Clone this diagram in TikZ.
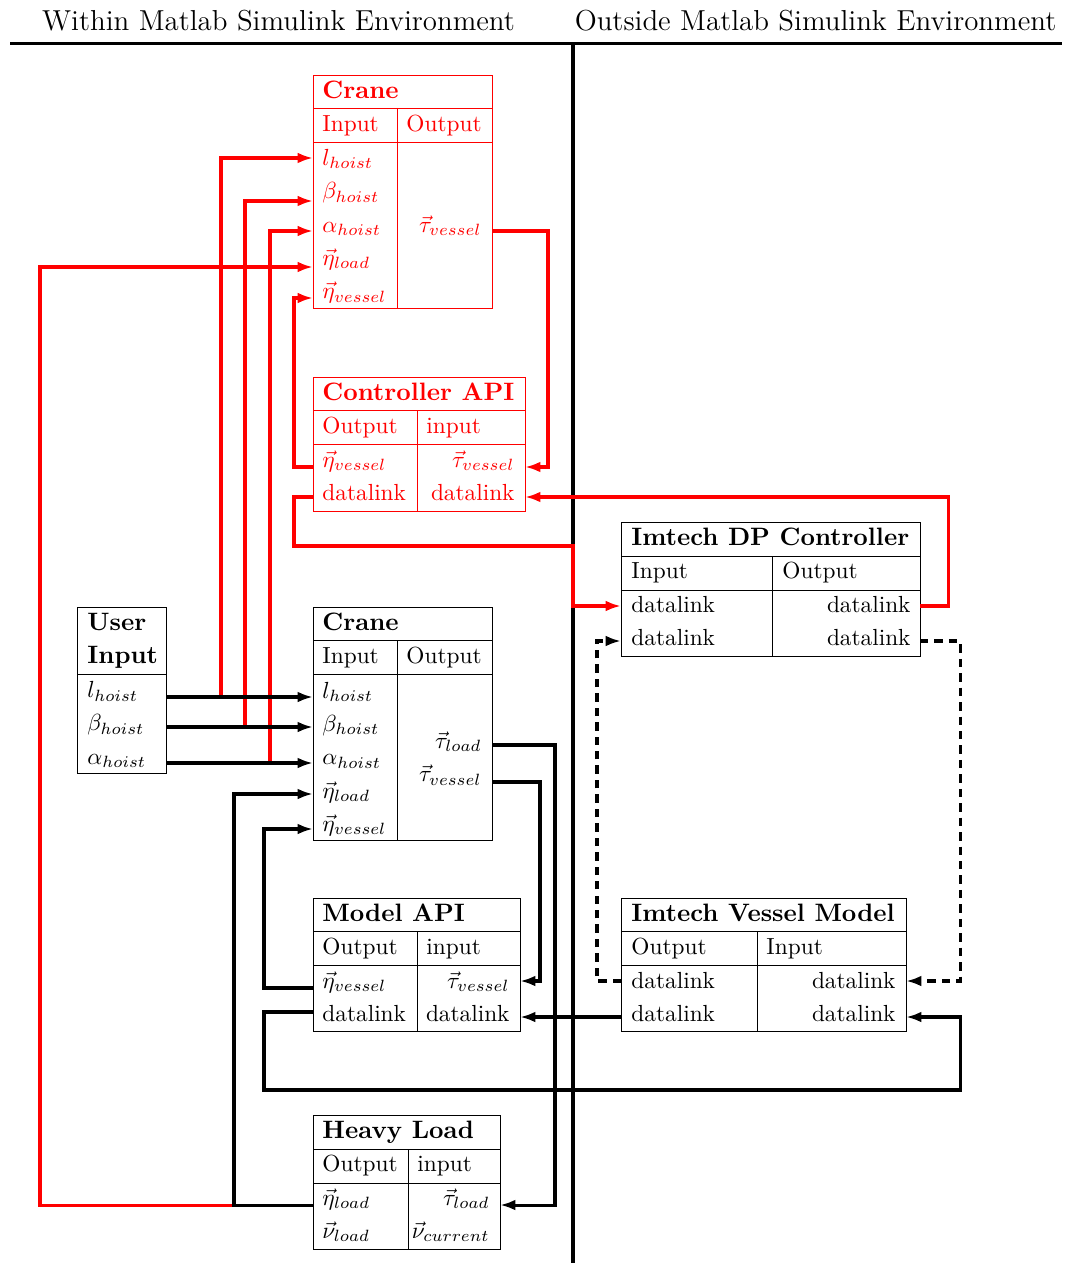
\documentclass[tikz,border=0pt]{standalone}
\usetikzlibrary{arrows.meta}
\begin{document}
\begin{tikzpicture}[x=0.4292pt,y=-0.4292pt,
  frame/.style={line width=0.35pt},
  wire/.style={line width=1.3pt},
  link/.style={wire,-{Latex[length=6.6pt,width=4.6pt]}},
  dashlink/.style={link,dash pattern=on 3.6pt off 2.6pt},
  lt/.style={anchor=base west,inner sep=0pt,font=\fontsize{10}{12}\selectfont},
  rt/.style={anchor=base east,inner sep=0pt,font=\fontsize{10}{12}\selectfont},
  ttl/.style={anchor=base west,inner sep=0pt,font=\fontsize{10.8}{13}\selectfont\bfseries},
  hdr/.style={anchor=base,inner sep=0pt,font=\fontsize{12.4}{15}\selectfont}]
\useasboundingbox (0,0) rectangle (1071,1263);

% environment headings and separators
\node[hdr] (within) at (278.5,31) {Within Matlab Simulink Environment};
\node[hdr] (outside) at (815.5,31) {Outside Matlab Simulink Environment};
\draw[wire] (10,43.5) -- (1062,43.5);
\draw[wire] (573,43.5) -- (573,1263);

% ---------- Crane (red, top) ----------
\begin{scope}[red]
\draw[frame] (313,75) rectangle (492,308);
\draw[frame] (313,108) -- (492,108) (313,142) -- (492,142) (397,108) -- (397,308);
\node[ttl] (rcT) at (322,98.5) {Crane};
\node[lt] (rcI) at (322,131.8) {Input};
\node[lt] (rcO) at (406,131.8) {Output};
\node[lt] (rc1) at (322,165.5) {$l_{hoist}$};
\node[lt] (rc2) at (322,198.8) {$\beta_{hoist}$};
\node[lt] (rc3) at (322,232.1) {$\alpha_{hoist}$};
\node[lt] (rc4) at (322,265.4) {$\vec{\eta}_{load}$};
\node[lt] (rc5) at (322,298.7) {$\vec{\eta}_{vessel}$};
\node[rt] (rc6) at (482,232.1) {$\vec{\tau}_{vessel}$};
\end{scope}
\coordinate (rc-l) at (313,158);
\coordinate (rc-b) at (313,201);
\coordinate (rc-a) at (313,231);
\coordinate (rc-el) at (313,267);
\coordinate (rc-ev) at (313,298);
\coordinate (rc-tv) at (492,231);

% ---------- Controller API (red) ----------
\begin{scope}[red]
\draw[frame] (313,377) rectangle (525,511);
\draw[frame] (313,410) -- (525,410) (313,444) -- (525,444) (417,410) -- (417,511);
\node[ttl] (caT) at (322,400.5) {Controller API};
\node[lt] (caO) at (322,433.8) {Output};
\node[lt] (caI) at (426,433.8) {input};
\node[lt] (ca1) at (322,467.1) {$\vec{\eta}_{vessel}$};
\node[lt] (ca2) at (322,500.4) {datalink};
\node[rt] (ca3) at (515,467.1) {$\vec{\tau}_{vessel}$};
\node[rt] (ca4) at (515,500.4) {datalink};
\end{scope}
\coordinate (ca-ev) at (313,467);
\coordinate (ca-dl) at (313,497);
\coordinate (ca-tv) at (525,467);
\coordinate (ca-di) at (525,497);

% ---------- Imtech DP Controller ----------
\draw[frame] (621,522) rectangle (920,656);
\draw[frame] (621,556) -- (920,556) (621,590) -- (920,590) (772,556) -- (772,656);
\node[ttl] (dpT) at (631,545.5) {Imtech DP Controller};
\node[lt] (dpI) at (631,578.8) {Input};
\node[lt] (dpO) at (782,578.8) {Output};
\node[lt] (dp1) at (631,612.1) {datalink};
\node[lt] (dp2) at (631,645.4) {datalink};
\node[rt] (dp3) at (911,612.1) {datalink};
\node[rt] (dp4) at (911,645.4) {datalink};
\coordinate (dp-i1) at (621,606);
\coordinate (dp-i2) at (621,641);
\coordinate (dp-o1) at (920,606);
\coordinate (dp-o2) at (920,641);

% ---------- User Input ----------
\draw[frame] (77,607) rectangle (166,773);
\draw[frame] (77,674) -- (166,674);
\node[ttl] (uiT1) at (87,630.5) {User};
\node[ttl] (uiT2) at (87,663.8) {Input};
\node[lt] (ui1) at (87,697.5) {$l_{hoist}$};
\node[lt] (ui2) at (87,730.8) {$\beta_{hoist}$};
\node[lt] (ui3) at (87,764.1) {$\alpha_{hoist}$};
\coordinate (ui-l) at (166,697);
\coordinate (ui-b) at (166,727);
\coordinate (ui-a) at (166,763);

% ---------- Crane (black) ----------
\draw[frame] (313,607) rectangle (492,840);
\draw[frame] (313,640) -- (492,640) (313,674.6) -- (492,674.6) (397,640) -- (397,840);
\node[ttl] (bcT) at (322,630.5) {Crane};
\node[lt] (bcI) at (322,663.8) {Input};
\node[lt] (bcO) at (406,663.8) {Output};
\node[lt] (bc1) at (322,698.1) {$l_{hoist}$};
\node[lt] (bc2) at (322,731.4) {$\beta_{hoist}$};
\node[lt] (bc3) at (322,764.7) {$\alpha_{hoist}$};
\node[lt] (bc4) at (322,798) {$\vec{\eta}_{load}$};
\node[lt] (bc5) at (322,831.3) {$\vec{\eta}_{vessel}$};
\node[rt] (bc6) at (482,748.2) {$\vec{\tau}_{load}$};
\node[rt] (bc7) at (482,781.5) {$\vec{\tau}_{vessel}$};
\coordinate (bc-l) at (313,697);
\coordinate (bc-b) at (313,727);
\coordinate (bc-a) at (313,763);
\coordinate (bc-el) at (313,794);
\coordinate (bc-ev) at (313,829);
\coordinate (bc-tl) at (492,745);
\coordinate (bc-tv) at (492,782);

% ---------- Model API ----------
\draw[frame] (313,898) rectangle (520,1031);
\draw[frame] (313,931) -- (520,931) (313,965) -- (520,965) (417,931) -- (417,1031);
\node[ttl] (maT) at (322,921.5) {Model API};
\node[lt] (maO) at (322,954.8) {Output};
\node[lt] (maI) at (426,954.8) {input};
\node[lt] (ma1) at (322,988.1) {$\vec{\eta}_{vessel}$};
\node[lt] (ma2) at (322,1021.4) {datalink};
\node[rt] (ma3) at (510,988.1) {$\vec{\tau}_{vessel}$};
\node[rt] (ma4) at (510,1021.4) {datalink};
\coordinate (ma-ev) at (313,988);
\coordinate (ma-dl) at (313,1012);
\coordinate (ma-tv) at (520,981);
\coordinate (ma-di) at (520,1017);

% ---------- Imtech Vessel Model ----------
\draw[frame] (621,898) rectangle (906,1031);
\draw[frame] (621,931) -- (906,931) (621,965) -- (906,965) (757,931) -- (757,1031);
\node[ttl] (vmT) at (631,921.5) {Imtech Vessel Model};
\node[lt] (vmO) at (631,954.8) {Output};
\node[lt] (vmI) at (766,954.8) {Input};
\node[lt] (vm1) at (631,988.1) {datalink};
\node[lt] (vm2) at (631,1021.4) {datalink};
\node[rt] (vm3) at (896,988.1) {datalink};
\node[rt] (vm4) at (896,1021.4) {datalink};
\coordinate (vm-o1) at (621,981);
\coordinate (vm-o2) at (621,1017);
\coordinate (vm-i1) at (906,981);
\coordinate (vm-i2) at (906,1017);

% ---------- Heavy Load ----------
\draw[frame] (313,1115) rectangle (500,1249);
\draw[frame] (313,1149) -- (500,1149) (313,1183) -- (500,1183) (408,1149) -- (408,1249);
\node[ttl] (hlT) at (322,1138.5) {Heavy Load};
\node[lt] (hlO) at (322,1171.8) {Output};
\node[lt] (hlI) at (417,1171.8) {input};
\node[lt] (hl1) at (322,1205.1) {$\vec{\eta}_{load}$};
\node[lt] (hl2) at (322,1238.4) {$\vec{\nu}_{load}$};
\node[rt] (hl3) at (490,1205.1) {$\vec{\tau}_{load}$};
\node[rt] (hl4) at (490,1238.4) {$\vec{\nu}_{current}$};
\coordinate (hl-el) at (313,1205);
\coordinate (hl-tl) at (500,1205);

% branch points
\coordinate (jl) at (221,697);
\coordinate (jb) at (245,727);
\coordinate (ja) at (270,763);
\coordinate (jh) at (234,1205);

% ---------- red signal paths ----------
\begin{scope}[red]
\draw[link] (jl) |- (rc-l);
\draw[link] (jb) |- (rc-b);
\draw[link] (ja) |- (rc-a);
\draw[link] (jh) -- (40,1205) |- (rc-el);
\draw[link] (rc-tv) -- (548,231) |- (ca-tv);
\draw[link] (ca-ev) -- (294,467) |- (rc-ev);
\draw[link] (ca-dl) -- (294,497) |- (573,546) -- (573,606) -- (dp-i1);
\draw[link] (dp-o1) -- (948,606) |- (ca-di);
\end{scope}

% ---------- black signal paths ----------
\draw[link] (ui-l) -- (bc-l);
\draw[link] (ui-b) -- (bc-b);
\draw[link] (ui-a) -- (bc-a);
\draw[link] (hl-el) -- (jh) |- (bc-el);
\draw[link] (ma-ev) -- (264,988) |- (bc-ev);
\draw[link] (ma-dl) -- (264,1012) |- (960,1090) -- (960,1017) -- (vm-i2);
\draw[link] (bc-tl) -- (555,745) |- (hl-tl);
\draw[link] (bc-tv) -- (540,782) |- (ma-tv);
\draw[link] (vm-o2) -- (ma-di);

% ---------- dashed datalinks ----------
\draw[dashlink] (vm-o1) -- (597,981) |- (dp-i2);
\draw[dashlink] (dp-o2) -- (960,641) |- (vm-i1);
\end{tikzpicture}
\end{document}
